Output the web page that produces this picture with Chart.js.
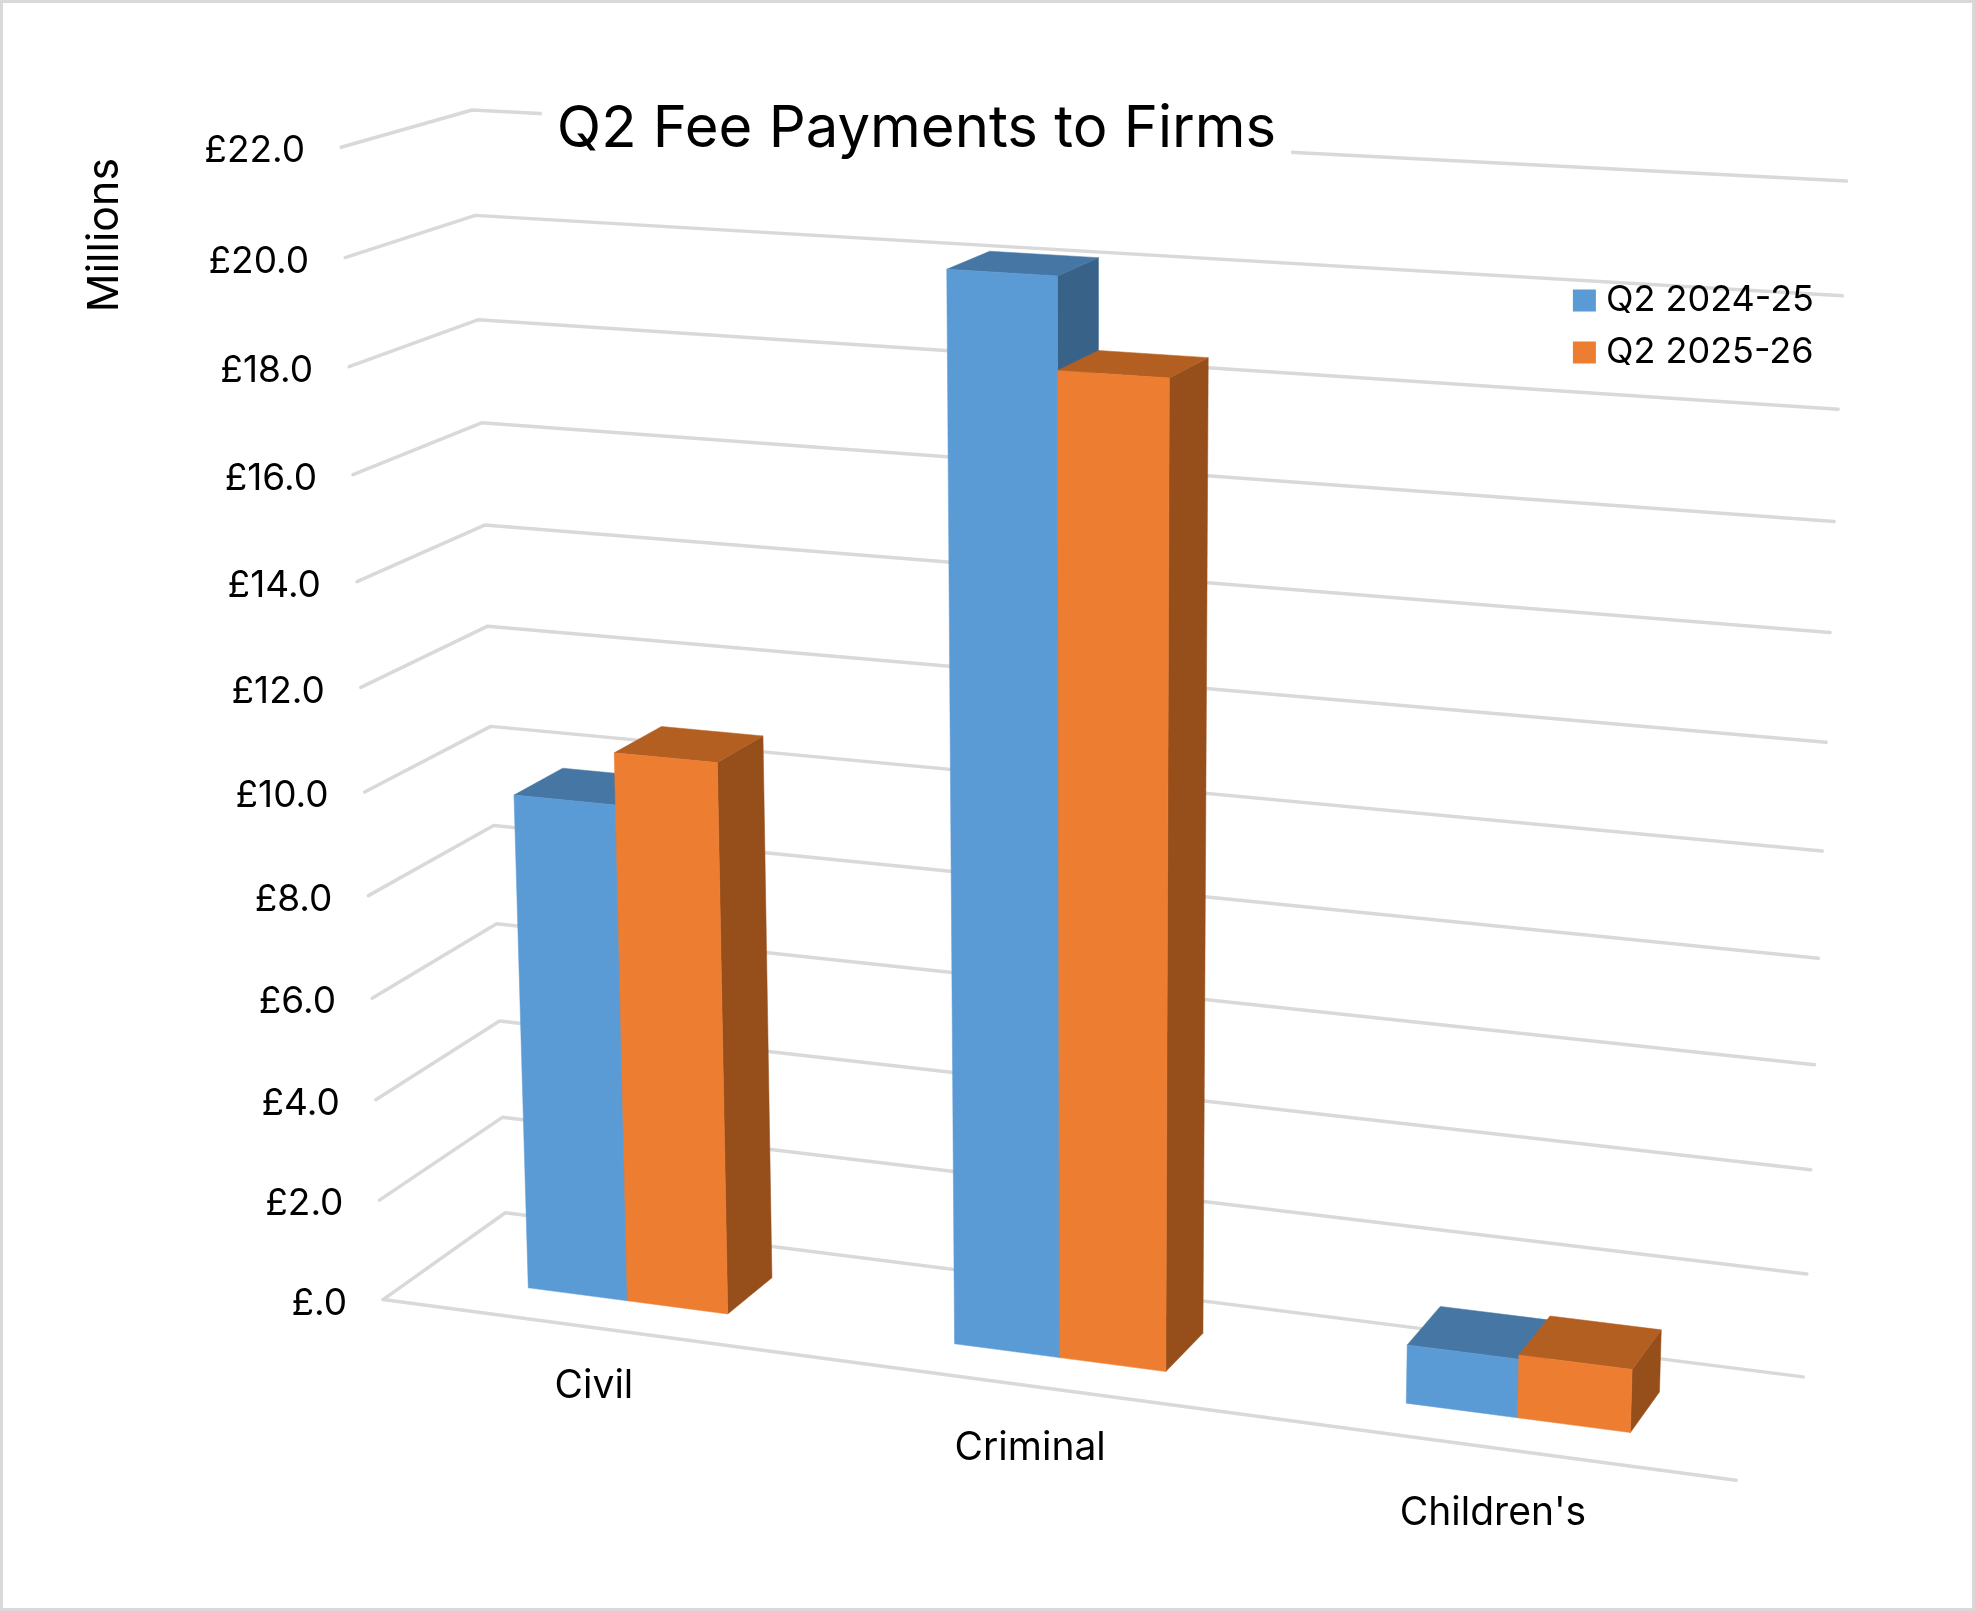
<!DOCTYPE html>
<html>
<head>
<meta charset="utf-8">
<title>Q2 Fee Payments to Firms</title>
<script src="https://cdn.jsdelivr.net/npm/chart.js@4"></script>
<style>
  html, body { margin: 0; padding: 0; background: #fff; }
  canvas { display: block; }
</style>
</head>
<body>
<canvas id="myChart" width="1975" height="1611"></canvas>
<script>
const categories = ['Civil', 'Criminal', "Children's"];
const seriesNames = ['Q2 2024-25', 'Q2 2025-26'];
const q2_2024_25 = [9.77, 20.18, 1.12];
const q2_2025_26 = [10.77, 18.5, 1.2];

const FONT = 'Inter, "Liberation Sans", sans-serif';
const TITLE_SIZE = 58;
const GRID = '#d9d9d9';
// front, top, side
const SHADES = [['#5b9bd5', '#4676a3', '#386288'], ['#ed7d31', '#b45f22', '#964f1b']];
// depth of the bars inside the floor, 0 = front edge, 1 = back wall
const BAR_FRONT = 0.29;
const BAR_BACK = 0.69;
const BAR_SHIFT = 0.0005;

// frame corners: [across, up, depth] -> pixel
const FRAME = [
    [[0, 0, 0], [383, 1300]], [[1, 0, 0], [1736, 1480]],
    [[0, 0, 1], [506, 1212]], [[1, 0, 1], [1803, 1377]],
    [[0, 1, 1], [472, 110]], [[1, 1, 1], [1846, 181]],
    [[0, 1, 0], [342, 147]], [[0, 10 / 22, 0], [364, 792]],
    [[0, 10 / 22, 1], [490, 727]], [[1, 10 / 22, 1], [1823, 851]]
];

// least squares fit of the camera matrix
function fitCamera(points) {
    const n = 11;
    const A = Array.from({ length: n }, () => new Array(n + 1).fill(0));
    const addRow = (row, rhs) => {
        for (let i = 0; i < n; i++) {
            for (let j = 0; j < n; j++) A[i][j] += row[i] * row[j];
            A[i][n] += row[i] * rhs;
        }
    };
    points.forEach(([[u, v, w], [px, py]]) => {
        const x = px / 1000, y = py / 1000;
        addRow([u, v, w, 1, 0, 0, 0, 0, -x * u, -x * v, -x * w], x);
        addRow([0, 0, 0, 0, u, v, w, 1, -y * u, -y * v, -y * w], y);
    });
    for (let c = 0; c < n; c++) {
        let best = c;
        for (let r = c + 1; r < n; r++) if (Math.abs(A[r][c]) > Math.abs(A[best][c])) best = r;
        [A[c], A[best]] = [A[best], A[c]];
        for (let r = 0; r < n; r++) {
            if (r === c) continue;
            const f = A[r][c] / A[c][c];
            for (let k = c; k <= n; k++) A[r][k] -= f * A[c][k];
        }
    }
    return A.map((row, i) => row[n] / row[i]);
}
const cam = fitCamera(FRAME);
function project(u, v, w) {
    const d = cam[8] * u + cam[9] * v + cam[10] * w + 1;
    return {
        x: 1000 * (cam[0] * u + cam[1] * v + cam[2] * w + cam[3]) / d,
        y: 1000 * (cam[4] * u + cam[5] * v + cam[6] * w + cam[7]) / d
    };
}

function poly(ctx, pts, color) {
    ctx.beginPath();
    pts.forEach((p, i) => i ? ctx.lineTo(p.x, p.y) : ctx.moveTo(p.x, p.y));
    ctx.closePath();
    ctx.fillStyle = color;
    ctx.fill();
    ctx.strokeStyle = color;
    ctx.lineWidth = 0.5;
    ctx.stroke();
}

function line(ctx, pts) {
    ctx.beginPath();
    pts.forEach((p, i) => i ? ctx.lineTo(p.x, p.y) : ctx.moveTo(p.x, p.y));
    ctx.stroke();
}

const perspective = {
    id: 'perspective',
    beforeDraw(chart) {
        const { ctx, width, height, scales: { x, y } } = chart;
        const max = y.max;
        ctx.save();
        ctx.fillStyle = '#fff';
        ctx.fillRect(0, 0, width, height);
        ctx.strokeStyle = GRID;
        ctx.lineWidth = 3;
        ctx.strokeRect(1.5, 1.5, width - 3, height - 3);

        // walls and floor
        ctx.lineWidth = 3.5;
        ctx.lineCap = 'round';
        ctx.lineJoin = 'round';
        y.ticks.forEach(t => {
            const v = t.value / max;
            line(ctx, [project(0, v, 0), project(0, v, 1), project(1, v, 1)]);
        });
        line(ctx, [project(0, 0, 0), project(1, 0, 0)]);

        // the title sits on a white box that breaks the top gridline
        const tb = chart.titleBlock;
        ctx.font = TITLE_SIZE + 'px ' + FONT;
        const tw = ctx.measureText(tb.options.text).width + 30;
        ctx.fillStyle = '#fff';
        ctx.fillRect((tb.left + tb.right - tw) / 2, 92, tw, 73);

        // axis text
        ctx.fillStyle = '#000';
        ctx.font = '37px ' + FONT;
        ctx.textBaseline = 'middle';
        ctx.textAlign = 'right';
        y.ticks.forEach(t => {
            const p = project(0, t.value / max, 0);
            ctx.fillText(t.label, p.x - 36, p.y + 4);
        });
        ctx.textAlign = 'center';
        ctx.font = '39px ' + FONT;
        x.ticks.forEach((t, i) => {
            const u = (x.getPixelForTick(i) - chart.chartArea.left) / chart.chartArea.width;
            const p = project(u, 0, 0);
            ctx.fillText(x.getLabelForValue(t.value), p.x + 2 - 3 * u, p.y + 57.5 + 9 * u);
        });
        ctx.font = '43px ' + FONT;
        ctx.translate(105, 235);
        ctx.rotate(-Math.PI / 2);
        ctx.fillText('Millions', 0, 0);
        ctx.restore();
    },
    // native flat bars are replaced by boxes built from the same elements
    beforeDatasetsDraw(chart) {
        const { ctx, chartArea, scales: { y } } = chart;
        const toU = px => (px - chartArea.left) / chartArea.width + BAR_SHIFT;
        const toV = px => y.getValueForPixel(px) / y.max;
        categories.forEach((_, c) => {
            chart.data.datasets.forEach((ds, s) => {
                const bar = chart.getDatasetMeta(s).data[c];
                const [front, top, side] = SHADES[s];
                const u0 = toU(bar.x - bar.width / 2), u1 = toU(bar.x + bar.width / 2);
                const v0 = toV(bar.base), v1 = toV(bar.y);
                poly(ctx, [project(u1, v0, BAR_FRONT), project(u1, v0, BAR_BACK),
                    project(u1, v1, BAR_BACK), project(u1, v1, BAR_FRONT)], side);
                poly(ctx, [project(u0, v1, BAR_FRONT), project(u1, v1, BAR_FRONT),
                    project(u1, v1, BAR_BACK), project(u0, v1, BAR_BACK)], top);
                poly(ctx, [project(u0, v0, BAR_FRONT), project(u1, v0, BAR_FRONT),
                    project(u1, v1, BAR_FRONT), project(u0, v1, BAR_FRONT)], front);
            });
        });
        return false;
    }
};

new Chart(document.getElementById('myChart'), {
    type: 'bar',
    data: {
        labels: categories,
        datasets: [
            { label: seriesNames[0], data: q2_2024_25, backgroundColor: SHADES[0][0] },
            { label: seriesNames[1], data: q2_2025_26, backgroundColor: SHADES[1][0] }
        ]
    },
    plugins: [perspective],
    options: {
        responsive: false,
        animation: false,
        devicePixelRatio: 1,
        layout: { padding: { top: 95, left: 9, right: 151 } },
        datasets: { bar: { categoryPercentage: 0.475, barPercentage: 1 } },
        scales: {
            x: { display: false },
            y: {
                display: false,
                min: 0,
                max: 22,
                ticks: {
                    stepSize: 2,
                    callback: value => value ? '£' + value.toFixed(1) : '£.0'
                }
            }
        },
        plugins: {
            tooltip: { enabled: false },
            title: {
                display: true,
                text: 'Q2 Fee Payments to Firms',
                color: '#000',
                font: { family: FONT, size: TITLE_SIZE, weight: 'normal' },
                padding: { top: 0, bottom: 102 }
            },
            legend: {
                position: 'right',
                align: 'start',
                fullSize: false,
                padding: 35,
                labels: {
                    color: '#000',
                    font: { family: FONT, size: 36 },
                    boxWidth: 7,
                    boxHeight: 6,
                    padding: 16,
                    // a thick border of the same colour gives the 23px swatch with a tight text gap
                    generateLabels: chart => Chart.defaults.plugins.legend.labels.generateLabels(chart)
                        .map(l => ({ ...l, lineWidth: 16, strokeStyle: l.fillStyle }))
                }
            }
        }
    }
});
</script>
</body>
</html>
